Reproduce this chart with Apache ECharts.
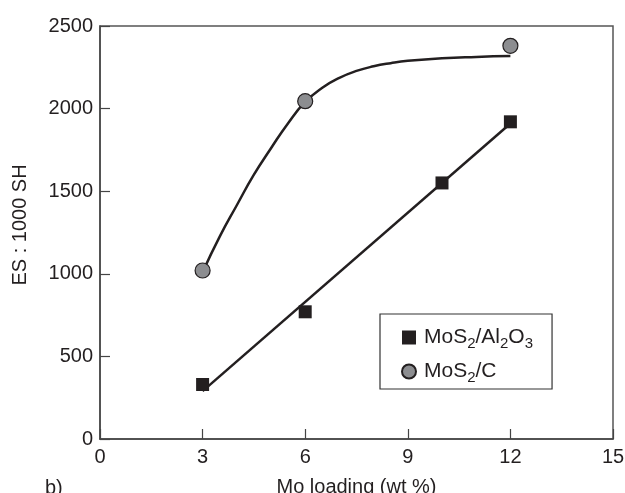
<!DOCTYPE html>
<html>
<head>
<meta charset="utf-8">
<script src="https://cdn.jsdelivr.net/npm/echarts@6/dist/echarts.min.js"></script>
<style>html,body{margin:0;padding:0;background:#fff;}#c{width:625px;height:493px;}</style>
</head>
<body>
<div id="c"></div>
<script>
// Data
var xTicks = [0, 3, 6, 9, 12, 15];
var yTicks = [0, 500, 1000, 1500, 2000, 2500];
// MoS2/Al2O3 measured points
var alX = [3, 6, 10, 12];
var alY = [330, 770, 1550, 1920];
// straight fitted line through MoS2/Al2O3
var alFitX = [3, 12];
var alFitY = [290, 1910];
// MoS2/C measured points
var cX = [3, 6, 12];
var cY = [1020, 2045, 2380];
// smooth guide curve through MoS2/C (traced)
var cCurveX = [3, 3.5, 4, 4.5, 5, 5.5, 6, 6.5, 7, 7.5, 8, 8.5, 9, 10, 11, 12];
var cCurveY = [1010, 1225, 1415, 1600, 1760, 1912, 2040, 2126, 2186, 2228, 2256, 2275, 2289, 2305, 2313, 2318];

function pairs(xs, ys) { return xs.map(function (x, i) { return [x, ys[i]]; }); }

var ink = '#231f20';
var font = 'Liberation Sans, Arial, Helvetica, sans-serif';

var chart = echarts.init(document.getElementById('c'), null, { renderer: 'canvas' });
chart.setOption({
  animation: false,
  backgroundColor: '#fff',
  grid: { left: 100, right: 12, top: 26, bottom: 54, show: true, borderColor: '#555', borderWidth: 1.5, backgroundColor: 'transparent', containLabel: false, outerBoundsMode: 'none' },
  xAxis: {
    type: 'value', min: xTicks[0], max: xTicks[xTicks.length - 1], interval: 3,
    name: 'Mo loading (wt %)', nameLocation: 'middle', nameGap: 38,
    nameTextStyle: { fontFamily: font, fontSize: 20, color: ink },
    axisLine: { show: true, lineStyle: { color: '#444', width: 1.5 } },
    axisTick: { show: true, inside: true, length: 10, lineStyle: { color: '#444', width: 1.2 } },
    axisLabel: { margin: 8, fontFamily: font, fontSize: 20, color: ink, formatter: function (v) { return String(v); } },
    splitLine: { show: false }
  },
  yAxis: {
    type: 'value', min: yTicks[0], max: yTicks[yTicks.length - 1], interval: 500,
    axisLine: { show: true, lineStyle: { color: '#444', width: 1.5 } },
    axisTick: { show: true, inside: true, length: 10, lineStyle: { color: '#444', width: 1.2 } },
    axisLabel: { margin: 7, fontFamily: font, fontSize: 20, color: ink, formatter: function (v) { return String(v); } },
    splitLine: { show: false }
  },
  legend: {
    orient: 'vertical', left: 380, top: 314,
    data: ['MoS2/Al2O3', 'MoS2/C'],
    borderColor: '#333', borderWidth: 1.2, backgroundColor: '#fff', borderRadius: 0,
    padding: [10, 19, 4, 21], itemGap: 7, itemWidth: 14, itemHeight: 14,
    formatter: function (n) {
      return n === 'MoS2/C' ? '{f|MoS}{s|2}{a|/C}' : '{f|MoS}{s|2}{a|/Al}{s|2}{a|O}{s|3}';
    },
    textStyle: {
      color: ink,
      rich: {
        f: { fontFamily: font, fontSize: 21, color: ink, lineHeight: 22, padding: [0, 0, 0, 3] },
        a: { fontFamily: font, fontSize: 21, color: ink, lineHeight: 22 },
        s: { fontFamily: font, fontSize: 15, color: ink, lineHeight: 15, padding: [12, 0, 0, 0] }
      }
    }
  },
  graphic: [
    { type: 'text', left: 45, top: 478, style: { text: 'b)', font: '20px ' + font, fill: ink } },
    { type: 'text', x: 20, y: 225, rotation: Math.PI / 2, style: { text: 'ES : 1000 SH', font: '20px ' + font, fill: ink, align: 'center', verticalAlign: 'middle' } }
  ],
  series: [
    { name: 'fitAl', type: 'line', data: pairs(alFitX, alFitY), showSymbol: false, symbol: 'none', lineStyle: { color: ink, width: 2.5 }, z: 2, silent: true },
    { name: 'fitC', type: 'line', data: pairs(cCurveX, cCurveY), smooth: 0.5, showSymbol: false, symbol: 'none', lineStyle: { color: ink, width: 2.5 }, z: 2, silent: true },
    { name: 'MoS2/Al2O3', type: 'scatter', data: pairs(alX, alY), symbol: 'rect', symbolSize: 13, itemStyle: { color: ink, opacity: 1 }, z: 3 },
    { name: 'MoS2/C', type: 'scatter', data: pairs(cX, cY), symbol: 'circle', symbolSize: 15, itemStyle: { color: '#8c8d90', borderColor: ink, borderWidth: 1.2, opacity: 1 }, z: 3 }
  ]
});
</script>
</body>
</html>
